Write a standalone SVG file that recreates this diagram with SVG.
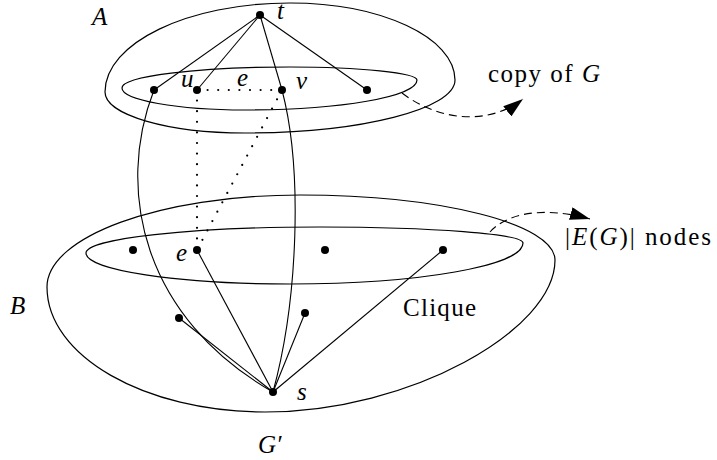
<svg xmlns="http://www.w3.org/2000/svg" width="717" height="460" viewBox="0 0 717 460">
<style>
.sh{fill:none;stroke:#000;stroke-width:1.2}
.ln{fill:none;stroke:#000;stroke-width:1.1}
.dot{fill:none;stroke:#000;stroke-width:2.2;stroke-linecap:round;stroke-dasharray:0 10.6}
.dash{fill:none;stroke:#000;stroke-width:1.1;stroke-dasharray:8 5}
.nd{fill:#000}
.it{font-style:italic}
</style>
<defs>
<marker id="ah" viewBox="0 0 20 13" refX="20" refY="6.5" markerWidth="20" markerHeight="13" markerUnits="userSpaceOnUse" orient="auto">
<path d="M0,0 L20,6.5 L0,13 z" fill="#000"/>
</marker>
</defs>
<rect width="717" height="460" fill="#fff"/>

<g id="regions">
<g id="regionA">
<path class="sh" d="M105,92 C105,43 188,3 290,3 C381,3 455,37.5 455,80 C455,109 361,133 245,133 C168,133 105,115 105,92 Z"/>
<path class="sh" d="M122,88 C122,76.4 197,67 290,67 C360,67 417,72.8 417,80 C417,96.6 340,110 245,110 C177,110 122,100 122,88 Z"/>
</g>
<g id="regionB">
<path class="sh" d="M47,287 C47,236.7 160,195 300,195 C441,195 555,224 555,260 C555,330 410,412 265,412 C144.6,412 47,356 47,287 Z"/>
<path class="sh" d="M86,253 C86,238.6 191,227 320,227 C432,227 523,234.2 523,243 C523,265.6 419,284 290,284 C177,284 86,270 86,253 Z"/>
</g>
</g>

<g id="connectors">
<line class="ln" x1="260" y1="15" x2="154" y2="90"/>
<line class="ln" x1="260" y1="15" x2="197" y2="90"/>
<line class="ln" x1="260" y1="15" x2="282" y2="90"/>
<line class="ln" x1="260" y1="15" x2="367" y2="90"/>
<path class="ln" d="M154,90 C115,190 143,318 273,392"/>
<path class="ln" d="M282,90 C303,170 298,300 273,392"/>
<line class="ln" x1="179" y1="318" x2="273" y2="392"/>
<line class="ln" x1="197" y1="250" x2="273" y2="392"/>
<line class="ln" x1="305" y1="313" x2="273" y2="392"/>
<line class="ln" x1="443" y1="250" x2="273" y2="392"/>
<line class="dot" x1="197" y1="90" x2="282" y2="90"/>
<line class="dot" x1="197" y1="90" x2="197" y2="250"/>
<line class="dot" x1="282" y1="90" x2="197" y2="250"/>
<path class="dash" d="M402,93 C440,122 490,125 523,99" marker-end="url(#ah)"/>
<path class="dash" d="M490,232 C505,215 540,205 590,219" marker-end="url(#ah)"/>
</g>

<g font-family="Liberation Serif, Times New Roman, serif" font-size="25" fill="#000">
<g id="node-t"><circle class="nd" cx="260" cy="15" r="4"/><text class="it" x="277" y="19">t</text></g>
<g id="node-a1"><circle class="nd" cx="154" cy="90" r="4"/></g>
<g id="node-u"><circle class="nd" cx="197" cy="90" r="4"/><text class="it" x="181" y="87">u</text></g>
<g id="node-v"><circle class="nd" cx="282" cy="90" r="4"/><text class="it" x="296" y="89">v</text></g>
<g id="node-a4"><circle class="nd" cx="367" cy="90" r="4"/></g>
<g id="node-b1"><circle class="nd" cx="133" cy="250" r="4"/></g>
<g id="node-e"><circle class="nd" cx="197" cy="250" r="4"/><text class="it" x="176" y="261">e</text></g>
<g id="node-b3"><circle class="nd" cx="325" cy="250" r="4"/></g>
<g id="node-b4"><circle class="nd" cx="443" cy="250" r="4"/></g>
<g id="node-c1"><circle class="nd" cx="179" cy="318" r="4"/></g>
<g id="node-c2"><circle class="nd" cx="305" cy="313" r="4"/></g>
<g id="node-s"><circle class="nd" cx="273" cy="392" r="4"/><text class="it" x="297" y="400">s</text></g>

<g id="labels">
<text class="it" x="92" y="25">A</text>
<text class="it" x="237" y="86">e</text>
<text class="it" x="10" y="314">B</text>
<text x="403" y="316" textLength="73">Clique</text>
<text x="488" y="82" textLength="112">copy of <tspan class="it">G</tspan></text>
<text x="565" y="245" textLength="146">|<tspan class="it">E</tspan>(<tspan class="it">G</tspan>)| nodes</text>
<text class="it" x="258" y="453">G′</text>
</g>
</g>
</svg>
